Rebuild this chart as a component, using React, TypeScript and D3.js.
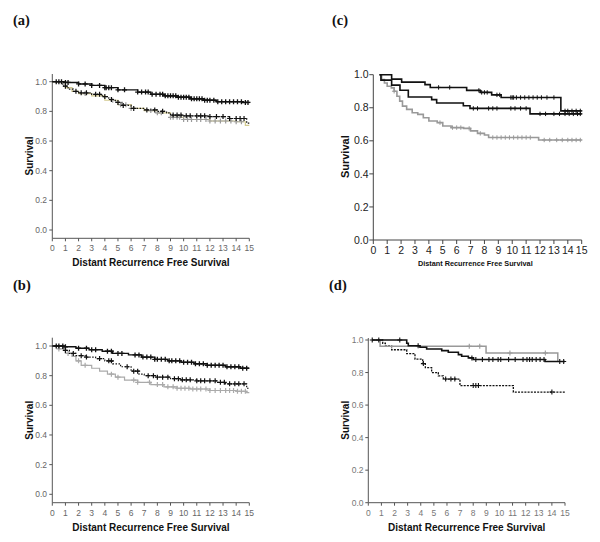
import React from "react";
import * as d3 from "d3";

// ---------- shared tick labels ----------
const xTickValues = d3.range(0, 16);
const yTickValues = [0, 0.2, 0.4, 0.6, 0.8, 1.0];
const xAxisTitle = "Distant Recurrence Free Survival";
const yAxisTitle = "Survival";

// ---------- panel (a) ----------
const aTopT = [0, 0.9, 2.0, 3.0, 4.0, 5.0, 6.5, 7.5, 8.5, 9.5, 10.5, 11.5, 12.5, 14.5];
const aTopS = [1.0, 0.995, 0.985, 0.975, 0.96, 0.945, 0.93, 0.915, 0.905, 0.895, 0.885, 0.875, 0.865, 0.86];
const aTopC = [0.3, 0.5, 0.7, 1.0, 1.2, 2.0, 2.5, 3.0, 3.6, 4.0, 4.1, 4.3, 4.5, 5.0, 5.5, 6.5, 6.8, 7.1, 7.3, 7.6, 7.9, 8.2, 8.4, 8.6, 8.8, 9.0, 9.2, 9.4, 9.6, 9.8, 10.0, 10.2, 10.4, 10.6, 10.8, 11.0, 11.2, 11.4, 11.6, 11.8, 12.0, 12.3, 12.6, 12.9, 13.2, 13.5, 13.8, 14.1, 14.4, 14.7, 14.9];
const aMidT = [0, 0.8, 1.2, 1.6, 2.0, 3.0, 3.8, 4.3, 4.8, 5.3, 6.0, 7.0, 8.0, 8.7, 9.0, 10.0, 12.0, 13.5, 14.8];
const aMidS = [1.0, 0.97, 0.95, 0.935, 0.925, 0.915, 0.9, 0.88, 0.86, 0.84, 0.82, 0.81, 0.8, 0.79, 0.775, 0.77, 0.765, 0.752, 0.72];
const aMidC = [1.0, 1.8, 2.2, 2.6, 3.3, 3.6, 4.0, 4.5, 5.0, 5.4, 6.2, 7.2, 7.8, 8.4, 9.2, 9.5, 9.8, 10.2, 10.5, 11.0, 11.3, 11.6, 12.0, 12.5, 13.0, 13.5, 14.0, 14.3, 14.6];
const aLowT = [0, 1.0, 1.5, 2.0, 3.0, 4.0, 5.0, 6.0, 7.0, 8.0, 9.0, 10.0, 12.0, 14.0, 14.7];
const aLowS = [1.0, 0.96, 0.935, 0.92, 0.905, 0.875, 0.845, 0.82, 0.805, 0.79, 0.76, 0.745, 0.735, 0.73, 0.705];
const aLowC = [2.5, 4.6, 5.2, 5.6, 6.0, 7.5, 8.0, 8.3, 9.0, 9.2, 9.5, 9.7, 10.0, 10.3, 10.6, 11.0, 11.3, 11.7, 12.0, 12.4, 12.8, 13.2, 13.6, 14.0, 14.4];

// ---------- panel (b) ----------
const bTopT = [0, 0.9, 1.8, 2.8, 3.8, 4.6, 5.8, 6.8, 7.8, 8.8, 9.8, 10.8, 11.8, 13.2, 14.3];
const bTopS = [1.0, 0.995, 0.985, 0.975, 0.965, 0.95, 0.94, 0.925, 0.91, 0.9, 0.89, 0.88, 0.87, 0.86, 0.85];
const bTopC = [0.3, 0.5, 0.8, 1.0, 2.0, 2.6, 3.0, 3.3, 4.2, 4.5, 5.0, 5.3, 6.3, 6.6, 6.9, 7.2, 7.5, 7.8, 8.0, 8.3, 8.6, 8.9, 9.1, 9.4, 9.7, 10.0, 10.3, 10.6, 10.9, 11.2, 11.5, 11.8, 12.1, 12.4, 12.7, 13.0, 13.3, 13.6, 13.9, 14.2, 14.5, 14.8];
const bMidT = [0, 0.8, 1.3, 1.8, 2.5, 3.3, 4.0, 4.6, 5.2, 6.0, 6.6, 7.0, 8.0, 9.0, 9.8, 11.0, 12.5, 13.2, 14.8];
const bMidS = [1.0, 0.97, 0.95, 0.935, 0.925, 0.915, 0.9, 0.88, 0.86, 0.83, 0.81, 0.8, 0.79, 0.78, 0.772, 0.765, 0.755, 0.745, 0.715];
const bMidC = [1.0, 1.6, 2.2, 2.6, 3.6, 4.3, 4.5, 5.7, 6.2, 6.5, 7.3, 7.7, 8.0, 8.4, 8.8, 9.3, 9.6, 9.9, 10.2, 10.5, 11.0, 11.3, 11.6, 12.0, 12.4, 12.8, 13.1, 13.5, 13.9, 14.2, 14.6];
const bLowT = [0, 0.5, 1.0, 1.5, 1.8, 2.2, 3.0, 3.6, 4.2, 4.8, 5.5, 6.5, 7.5, 8.5, 9.5, 10.5, 12.0, 14.0, 14.8];
const bLowS = [1.0, 0.98, 0.95, 0.93, 0.9, 0.87, 0.85, 0.83, 0.81, 0.79, 0.77, 0.755, 0.74, 0.725, 0.715, 0.71, 0.7, 0.695, 0.685];
const bLowC = [0.5, 1.2, 2.0, 2.5, 4.5, 5.0, 6.2, 6.5, 7.4, 8.0, 8.4, 8.8, 9.2, 9.5, 9.8, 10.1, 10.4, 10.7, 11.0, 11.3, 11.7, 12.0, 12.4, 12.8, 13.2, 13.5, 13.8, 14.1, 14.4, 14.7];

// ---------- panel (c) ----------
const cTopT = [0.45, 1.32, 2.04, 3.72, 4.1, 6.72, 7.7, 8.52, 9.2, 13.5];
const cTopS = [1.0, 0.973, 0.955, 0.94, 0.923, 0.905, 0.893, 0.878, 0.862, 0.781];
const cTopC = [4.7, 5.5, 7.6, 7.8, 8.0, 8.2, 8.9, 9.1, 9.9, 10.0, 10.1, 10.3, 10.6, 10.9, 11.2, 11.5, 11.8, 12.1, 12.5, 13.0, 13.8, 14.0, 14.3, 14.6, 14.9];
const cMidT = [0.45, 0.55, 1.32, 1.92, 2.52, 4.2, 4.56, 6.48, 6.96, 11.28];
const cMidS = [1.0, 0.967, 0.937, 0.906, 0.865, 0.849, 0.829, 0.812, 0.796, 0.763];
const cMidC = [7.2, 7.5, 8.3, 8.6, 8.9, 9.9, 10.2, 10.6, 11.0, 12.0, 12.4, 13.0, 13.4, 13.8, 14.1, 14.4, 14.7, 14.9];
const cLowT = [0.45, 0.6, 0.8, 1.0, 1.3, 1.5, 1.7, 1.9, 2.1, 2.4, 2.8, 3.2, 3.6, 4.0, 4.6, 5.0, 5.6, 6.5, 7.0, 7.5, 8.0, 8.3, 11.9];
const cLowS = [1.0, 0.97, 0.95, 0.93, 0.92, 0.9, 0.87, 0.84, 0.81, 0.79, 0.77, 0.76, 0.74, 0.72, 0.71, 0.69, 0.68, 0.675, 0.66, 0.645, 0.635, 0.62, 0.605];
const cLowC = [1.5, 4.8, 5.7, 6.0, 6.3, 6.9, 7.7, 8.6, 8.9, 9.2, 9.5, 9.8, 10.1, 10.4, 10.7, 11.0, 11.3, 12.3, 12.7, 13.2, 13.6, 14.0, 14.3, 14.6, 14.9];

// ---------- panel (d) ----------
const dGrayT = [0.3, 0.9, 8.98, 14.45];
const dGrayS = [1.0, 0.961, 0.92, 0.87];
const dGrayC = [7.7, 8.5, 10.8, 13.5];
const dBlackT = [0.3, 2.93, 3.05, 3.94, 4.45, 5.6, 6.1, 6.87, 7.12, 7.63, 8.0, 13.48];
const dBlackS = [1.0, 0.98, 0.965, 0.955, 0.945, 0.935, 0.925, 0.91, 0.9, 0.89, 0.88, 0.868];
const dBlackC = [0.3, 0.8, 2.4, 3.8, 7.9, 8.2, 8.7, 9.2, 9.5, 9.9, 10.1, 10.7, 11.2, 11.8, 12.1, 12.3, 12.5, 12.8, 13.1, 13.4, 14.6, 14.9];
const dDotT = [0.5, 1.1, 1.3, 1.78, 2.93, 3.56, 4.15, 4.35, 4.83, 5.34, 5.72, 6.99, 11.06];
const dDotS = [1.0, 0.98, 0.963, 0.94, 0.916, 0.882, 0.855, 0.83, 0.8, 0.78, 0.76, 0.72, 0.68];
const dDotC = [4.2, 5.9, 6.3, 6.6, 8.0, 8.2, 8.4, 14.0];

type Series = {
  t: number[]; s: number[]; c: number[]; end: number;
  stroke: string; width: number; dash?: string; censorStroke: string; censorW: number;
};

type PanelCfg = {
  label: string; labelX: number; labelY: number;
  x0: number; x1: number; y1: number; y0: number;
  axisTop: number; axisBottom: number;
  tickLen: number; tickFont: number; tickColor: string; axisColor: string;
  yLabelX: number; xLabelY: number;
  titleX: number; titleY: number; titleFont: number;
  survX: number; survY: number; survFont: number;
  cs: number;
  series: Series[];
};

const panels: PanelCfg[] = [
  {
    label: "(a)", labelX: 13, labelY: 25,
    x0: 52.3, x1: 249.3, y1: 81.7, y0: 230, axisTop: 74, axisBottom: 238.3,
    tickLen: 3, tickFont: 8.5, tickColor: "#666", axisColor: "#555",
    yLabelX: 47, xLabelY: 248.5, titleX: 151, titleY: 262, titleFont: 10,
    survX: 29, survY: 156, survFont: 10, cs: 2.5,
    series: [
      { t: aLowT, s: aLowS, c: aLowC, end: 15, stroke: "#d2c98e", width: 1.2, censorStroke: "#9a9a9a", censorW: 1.2 },
      { t: aMidT, s: aMidS, c: aMidC, end: 15, stroke: "#111", width: 1.2, dash: "1.5,1.5", censorStroke: "#111", censorW: 1.2 },
      { t: aTopT, s: aTopS, c: aTopC, end: 15, stroke: "#111", width: 1.4, censorStroke: "#111", censorW: 1.3 },
    ],
  },
  {
    label: "(b)", labelX: 13, labelY: 290,
    x0: 52.3, x1: 249.3, y1: 346, y0: 494.3, axisTop: 337.7, axisBottom: 502.7,
    tickLen: 3, tickFont: 8.5, tickColor: "#666", axisColor: "#555",
    yLabelX: 47, xLabelY: 512.7, titleX: 151, titleY: 527, titleFont: 10,
    survX: 29, survY: 420.3, survFont: 10, cs: 2.5,
    series: [
      { t: bLowT, s: bLowS, c: bLowC, end: 15, stroke: "#aaa", width: 1.2, censorStroke: "#aaa", censorW: 1.2 },
      { t: bMidT, s: bMidS, c: bMidC, end: 15, stroke: "#111", width: 1.2, dash: "1.5,1.5", censorStroke: "#111", censorW: 1.2 },
      { t: bTopT, s: bTopS, c: bTopC, end: 15, stroke: "#111", width: 1.4, censorStroke: "#111", censorW: 1.3 },
    ],
  },
  {
    label: "(c)", labelX: 332, labelY: 25,
    x0: 373.3, x1: 581.7, y1: 74.7, y0: 240, axisTop: 74.7, axisBottom: 240,
    tickLen: 4, tickFont: 10.5, tickColor: "#222", axisColor: "#444",
    yLabelX: 368.5, xLabelY: 250.7, titleX: 475.3, titleY: 263.3, titleFont: 7.3,
    survX: 345, survY: 156.7, survFont: 11, cs: 2.2,
    series: [
      { t: cLowT, s: cLowS, c: cLowC, end: 15, stroke: "#999", width: 1.6, censorStroke: "#999", censorW: 1 },
      { t: cMidT, s: cMidS, c: cMidC, end: 15, stroke: "#111", width: 1.6, censorStroke: "#111", censorW: 1 },
      { t: cTopT, s: cTopS, c: cTopC, end: 15, stroke: "#111", width: 1.6, censorStroke: "#111", censorW: 1 },
    ],
  },
  {
    label: "(d)", labelX: 329, labelY: 290,
    x0: 368.3, x1: 565, y1: 340, y0: 502.7, axisTop: 338, axisBottom: 502.7,
    tickLen: 3, tickFont: 8.5, tickColor: "#777", axisColor: "#555",
    yLabelX: 363.5, xLabelY: 513, titleX: 466.7, titleY: 527, titleFont: 10,
    survX: 345, survY: 420.3, survFont: 10, cs: 2.5,
    series: [
      { t: dDotT, s: dDotS, c: dDotC, end: 15, stroke: "#111", width: 1.3, dash: "2,1.2", censorStroke: "#111", censorW: 1.1 },
      { t: dGrayT, s: dGrayS, c: dGrayC, end: 14.5, stroke: "#999", width: 1.5, censorStroke: "#999", censorW: 1.1 },
      { t: dBlackT, s: dBlackS, c: dBlackC, end: 15, stroke: "#111", width: 1.6, censorStroke: "#111", censorW: 1.1 },
    ],
  },
];

const FONT = "'Liberation Sans', Arial, sans-serif";

function Panel({ p }: { p: PanelCfg }) {
  const x = d3.scaleLinear().domain([0, 15]).range([p.x0, p.x1]);
  const y = d3.scaleLinear().domain([0, 1]).range([p.y0, p.y1]);
  const line = d3
    .line<[number, number]>()
    .x((d) => x(d[0]))
    .y((d) => y(d[1]))
    .curve(d3.curveStepAfter);
  const survAt = (ser: Series, tt: number) => {
    const i = Math.max(0, d3.bisectRight(ser.t, tt) - 1);
    return ser.s[i];
  };
  return (
    <g>
      <text x={p.labelX} y={p.labelY} fontFamily="'Liberation Serif', 'Times New Roman', serif" fontWeight="bold" fontSize={14.5} fill="#111">
        {p.label}
      </text>
      {/* axes */}
      <line x1={p.x0} x2={p.x0} y1={p.axisTop} y2={p.axisBottom} stroke={p.axisColor} strokeWidth={1} />
      <line x1={p.x0} x2={p.x1} y1={p.axisBottom} y2={p.axisBottom} stroke={p.axisColor} strokeWidth={1} />
      {yTickValues.map((v) => (
        <g key={"y" + v}>
          <line x1={p.x0 - p.tickLen} x2={p.x0} y1={y(v)} y2={y(v)} stroke={p.axisColor} strokeWidth={1} />
          <text x={p.yLabelX} y={y(v)} dy="0.35em" textAnchor="end" fontFamily={FONT} fontSize={p.tickFont} fill={p.tickColor}>
            {d3.format(".1f")(v)}
          </text>
        </g>
      ))}
      {xTickValues.map((v) => (
        <g key={"x" + v}>
          <line x1={x(v)} x2={x(v)} y1={p.axisBottom} y2={p.axisBottom + p.tickLen} stroke={p.axisColor} strokeWidth={1} />
          <text x={x(v)} y={p.xLabelY} dy="0.35em" textAnchor="middle" fontFamily={FONT} fontSize={p.tickFont} fill={p.tickColor}>
            {v}
          </text>
        </g>
      ))}
      <text x={p.titleX} y={p.titleY} dy="0.35em" textAnchor="middle" fontFamily={FONT} fontWeight="bold" fontSize={p.titleFont} fill="#111">
        {xAxisTitle}
      </text>
      <text
        transform={`translate(${p.survX},${p.survY}) rotate(-90)`}
        dy="0.35em"
        textAnchor="middle"
        fontFamily={FONT}
        fontWeight="bold"
        fontSize={p.survFont}
        fill="#111"
      >
        {yAxisTitle}
      </text>
      {/* curves */}
      {p.series.map((ser, si) => {
        const pts: [number, number][] = ser.t.map((tt, i) => [tt, ser.s[i]] as [number, number]);
        pts.push([ser.end, ser.s[ser.s.length - 1]]);
        return (
          <g key={si}>
            <path d={line(pts) || ""} fill="none" stroke={ser.stroke} strokeWidth={ser.width} strokeDasharray={ser.dash} />
            {ser.c.map((ct, ci) => {
              const cx = x(ct);
              const cy = y(survAt(ser, ct));
              return (
                <path
                  key={ci}
                  d={`M${cx - p.cs},${cy}H${cx + p.cs}M${cx},${cy - p.cs}V${cy + p.cs}`}
                  stroke={ser.censorStroke}
                  strokeWidth={ser.censorW}
                  fill="none"
                />
              );
            })}
          </g>
        );
      })}
    </g>
  );
}

export default function App() {
  return (
    <svg width={600} height={542} style={{ position: "absolute", left: 0, top: 0, background: "#fff" }}>
      <rect x={0} y={0} width={600} height={542} fill="#fff" />
      {panels.map((p) => (
        <Panel key={p.label} p={p} />
      ))}
    </svg>
  );
}
